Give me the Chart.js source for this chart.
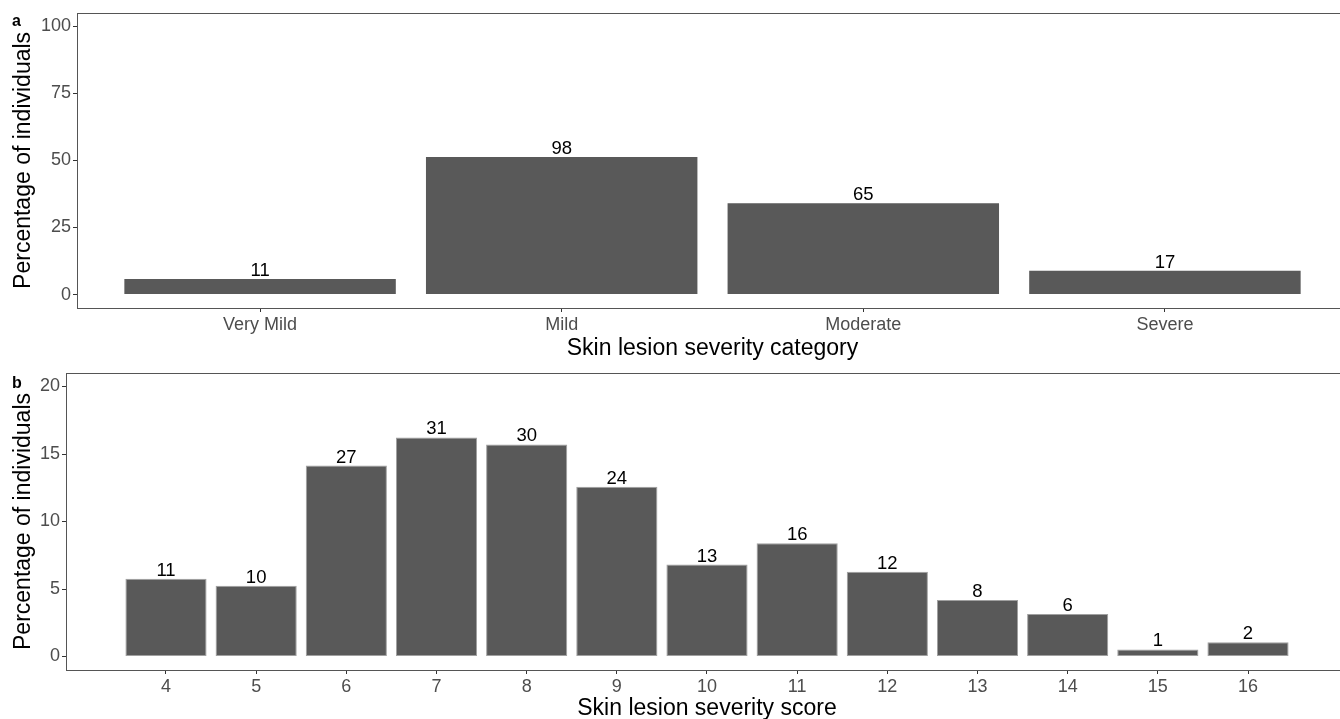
<!DOCTYPE html>
<html>
<head>
<meta charset="utf-8">
<script src="https://cdn.jsdelivr.net/npm/chart.js@4"></script>
<style>
  html, body { margin: 0; padding: 0; background: #fff; overflow: hidden; width: 1340px; height: 719px; }
  canvas { position: absolute; left: 0; }
  #chartA { top: 0; }
  #chartB { top: 360px; }
</style>
</head>
<body>
<canvas id="chartA" width="1350" height="362"></canvas>
<canvas id="chartB" width="1350" height="365"></canvas>
<script>
// panel a: severity category
const categoryLabels = ['Very Mild', 'Mild', 'Moderate', 'Severe'];
const categoryCounts = [11, 98, 65, 17];
const categoryPercent = [5.76, 51.31, 34.03, 8.90];
const categoryTicks = [0, 25, 50, 75, 100];

// panel b: severity score
const scoreLabels = [4, 5, 6, 7, 8, 9, 10, 11, 12, 13, 14, 15, 16];
const scoreCounts = [11, 10, 27, 31, 30, 24, 13, 16, 12, 8, 6, 1, 2];
const scorePercent = [5.76, 5.24, 14.14, 16.23, 15.71, 12.57, 6.81, 8.38, 6.28, 4.19, 3.14, 0.52, 1.05];
const scoreTicks = [0, 5, 10, 15, 20];

const FONT = '"Liberation Sans", Arial, sans-serif';
const TICK_GREY = '#4d4d4d';

const barLabels = {
  id: 'barLabels',
  afterDatasetsDraw(chart, args, o) {
    const ctx = chart.ctx;
    const a = chart.chartArea;
    ctx.save();
    ctx.font = '18.5px ' + FONT;
    ctx.fillStyle = '#000';
    ctx.textAlign = 'center';
    ctx.textBaseline = 'alphabetic';
    chart.getDatasetMeta(0).data.forEach((bar, i) => {
      ctx.fillText(String(o.counts[i]), bar.x, bar.y - 3);
    });
    ctx.strokeStyle = '#555';
    ctx.lineWidth = 1;
    ctx.strokeRect(Math.round(a.left) + 0.5, Math.round(a.top) + 0.5,
      Math.round(a.right - a.left), Math.round(a.bottom - a.top));
    ctx.font = 'bold 16px ' + FONT;
    ctx.textAlign = 'left';
    ctx.fillText(o.letter, o.lx, o.ly);
    ctx.restore();
  }
};

function makeChart(id, cfg) {
  const positions = cfg.labels.map((l, i) => cfg.first + i);
  return new Chart(document.getElementById(id), {
    type: 'bar',
    data: {
      datasets: [{
        data: positions.map((x, i) => ({ x: x, y: cfg.values[i] })),
        backgroundColor: '#595959',
        borderColor: cfg.border,
        borderWidth: cfg.borderWidth,
        borderSkipped: false,
        barPercentage: 0.9,
        categoryPercentage: 1
      }]
    },
    options: {
      responsive: false,
      animation: false,
      layout: { padding: { top: cfg.top, right: 2, left: 0, bottom: 0 } },
      plugins: {
        legend: { display: false },
        tooltip: { enabled: false },
        barLabels: { counts: cfg.counts, letter: cfg.letter, lx: 12, ly: cfg.letterY }
      },
      scales: {
        x: {
          type: 'linear',
          offset: false,
          min: cfg.xmin,
          max: cfg.xmax,
          afterBuildTicks: s => { s.ticks = positions.map(v => ({ value: v })); },
          afterFit: s => { s.height = cfg.xHeight; },
          ticks: {
            autoSkip: false,
            maxRotation: 0,
            padding: 2,
            color: TICK_GREY,
            font: { family: FONT, size: 18 },
            callback: v => String(cfg.labels[Math.round(v) - cfg.first])
          },
          grid: { offset: false, drawOnChartArea: false, tickLength: 4, tickColor: '#333' },
          border: { display: false },
          title: {
            display: true,
            text: cfg.xTitle,
            color: '#000',
            font: { family: FONT, size: 23 },
            padding: { top: 0, bottom: cfg.xTitlePad }
          }
        },
        y: {
          min: cfg.ymin,
          max: cfg.ymax,
          afterBuildTicks: s => { s.ticks = cfg.yTicks.map(v => ({ value: v })); },
          afterFit: s => { s.width = cfg.yWidth; },
          ticks: {
            padding: 2,
            color: TICK_GREY,
            font: { family: FONT, size: 18 }
          },
          grid: { drawOnChartArea: false, tickLength: 4, tickColor: '#333' },
          border: { display: false },
          title: {
            display: true,
            text: 'Percentage of individuals',
            color: '#000',
            font: { family: FONT, size: 23 },
            padding: { top: 10, bottom: 0 }
          }
        }
      }
    },
    plugins: [barLabels]
  });
}

makeChart('chartA', {
  labels: categoryLabels, counts: categoryCounts, values: categoryPercent, yTicks: categoryTicks,
  first: 1, xmin: 0.393, xmax: 4.607, ymin: -5, ymax: 105,
  top: 11, xHeight: 54, yWidth: 77, xTitlePad: 0,
  xTitle: 'Skin lesion severity category', letter: 'a', letterY: 26,
  border: '#595959', borderWidth: 0
});

makeChart('chartB', {
  labels: scoreLabels, counts: scoreCounts, values: scorePercent, yTicks: scoreTicks,
  first: 4, xmin: 2.891, xmax: 17.109, ymin: -1, ymax: 21,
  top: 13, xHeight: 55, yWidth: 66, xTitlePad: 3,
  xTitle: 'Skin lesion severity score', letter: 'b', letterY: 28,
  border: '#a0a0a0', borderWidth: 1
});
</script>
</body>
</html>
